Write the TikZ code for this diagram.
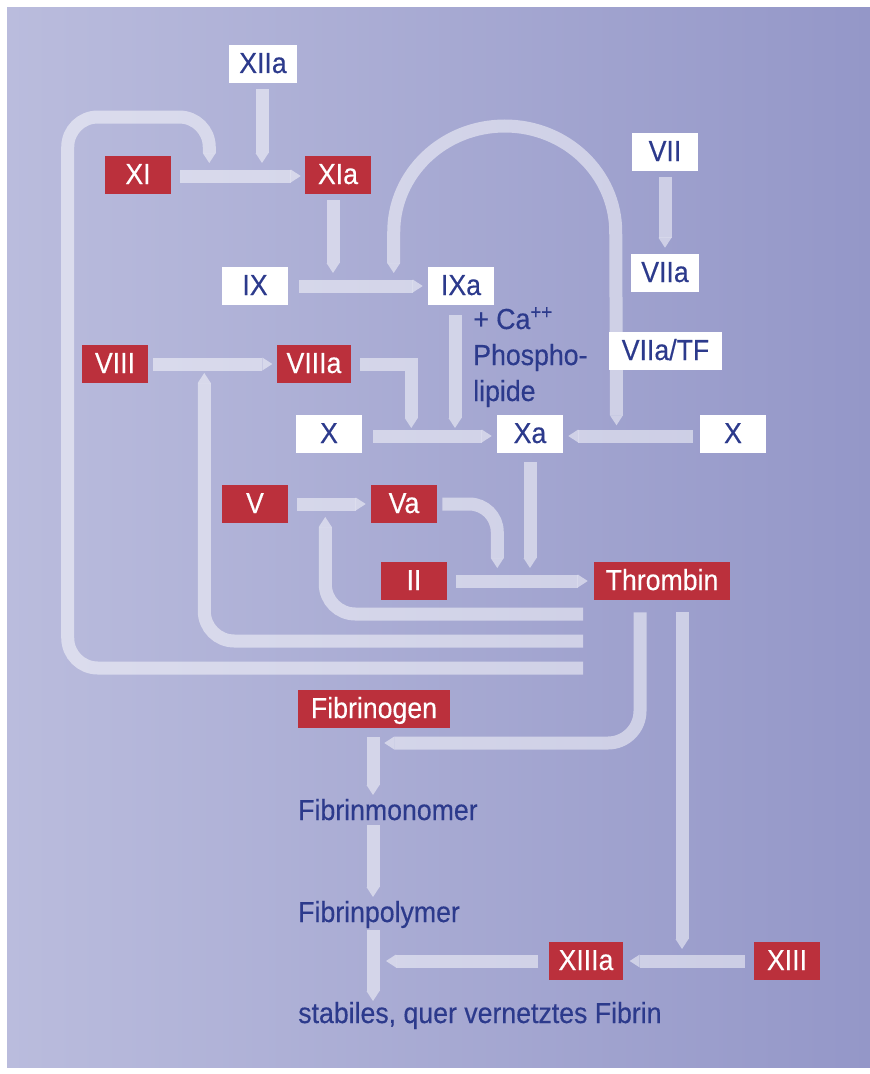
\documentclass[tikz,border=0pt]{standalone}
\usepackage{fontspec}
\setmainfont{Liberation Sans}[FakeStretch=0.92, FakeBold=0.35]
\usetikzlibrary{arrows.meta,calc,backgrounds}
\definecolor{Ink}{HTML}{2C3A8C}
\definecolor{Crimson}{HTML}{BB303C}
\definecolor{HazeL}{HTML}{BABCDD}
\definecolor{HazeR}{HTML}{9497C8}
\newdimen\pxu \pxu=0.75pt
\newcommand{\factorfont}{\fontsize{21.75}{27}\selectfont}
\tikzset{
  factor/.style={inner xsep=10\pxu, inner ysep=0pt, minimum height=38\pxu, minimum width=66\pxu, text height=21\pxu, text depth=3\pxu, font=\factorfont},
  zymogen/.style={factor, fill=white, text=Ink},
  enzyme/.style={factor, fill=Crimson, text=white},
  stage/.style={inner sep=0pt, anchor=base west, text=Ink, font=\factorfont},
  tip/.tip={Triangle[length=7.5pt, width=9.75pt, line width=0pt]},
  band/.style={line width=13\pxu, draw=white, opacity=0.5, -tip},
  twoway/.style={band, tip-tip}
}

\begin{document}
\begin{tikzpicture}[x=0.75pt, y=-0.75pt]
\useasboundingbox (0,0) rectangle (870,1074);
% intrinsic branch
\node[zymogen] (XIIa) at (263,64) {XIIa};
\node[enzyme] (XI) at (138,175) {XI};
\node[enzyme] (XIa) at (338,175) {XIa};
\node[zymogen] (IX) at (255,286) {IX};
\node[zymogen] (IXa) at (461,286) {IXa};
\node[enzyme] (VIII) at (115,364) {VIII};
\node[enzyme] (VIIIa) at (314,364) {VIIIa};
% extrinsic branch
\node[zymogen] (VII) at (665,152) {VII};
\node[zymogen] (VIIa) at (665,273) {VIIa};
\node[zymogen, minimum width=113\pxu] (VIIaTF) at (665.5,351) {VIIa/TF};
\node[stage] (ca) at (473,329) {+ Ca\textsuperscript{++}};
\node[stage] (phos) at (473,365) {Phospho-};
\node[stage] (lip) at (473,401) {lipide};
% common pathway
\node[zymogen] (Xl) at (329,434) {X};
\node[zymogen] (Xa) at (530,434) {Xa};
\node[zymogen] (Xr) at (733,434) {X};
\node[enzyme] (V) at (255,504) {V};
\node[enzyme] (Va) at (404,504) {Va};
\node[enzyme] (II) at (414,581) {II};
\node[enzyme, minimum width=136\pxu] (Thrombin) at (662,581) {Thrombin};
\node[enzyme, minimum width=152\pxu] (Fibrinogen) at (374,709) {Fibrinogen};
\node[stage] (monomer) at (298,820) {Fibrinmonomer};
\node[stage] (polymer) at (298,922) {Fibrinpolymer};
\node[stage] (crosslinked) at (298,1023) {stabiles, quer vernetztes Fibrin};
\node[enzyme] (XIIIa) at (586,961) {XIIIa};
\node[enzyme] (XIII) at (787,961) {XIII};
% feedback starts
\coordinate (fb1) at (583,614);
\coordinate (fb2) at (583,641);
\coordinate (fb3) at (583,668);

\begin{scope}[on background layer]
\fill[white] (0,0) rectangle (870,1074);
\fill[left color=HazeL, right color=HazeR] (7,8) rectangle (870,1067);
% activation bands
\draw[band] ($(XIIa.south)+(-1,6)$) -- ($(XIIa.south |- XI.east)+(-1,-12)$);
\draw[band] ($(XI.east)+(9,1)$) -- ($(XIa.west)+(-4,1)$);
\draw[band] ($(XIa.south)+(-5,6)$) -- ($(XIa.south |- IX.east)+(-5,-13)$);
\draw[band] ($(IX.east)+(11,0)$) -- ($(IXa.west)+(-5,0)$);
\draw[twoway] ($(IXa.west)+(-34,-13)$) -- ++(0,-41)
  arc[start angle=180, end angle=360, x radius=111, y radius=106]
  -- ($(VIIaTF.south)+(-49,55)$);
\draw[band] ($(VII.south)+(0,6)$) -- ($(VIIa.north)+(0,-6)$);
\draw[band] ($(VIII.east)+(5,0)$) -- ($(VIIIa.west)+(-4,0)$);
\draw[band] ($(VIIIa.east)+(8,0)$) -| ($(Xl.east)+(49,-6)$);
\draw[band] ($(IXa.south)+(-6,10)$) -- ($(Xl.east -| IXa.south)+(-6,-6)$);
\draw[band] ($(Xl.east)+(11,2)$) -- ($(Xa.west)+(-5,2)$);
\draw[band] ($(Xr.west)+(-7,2)$) -- ($(Xa.east)+(5,2)$);
\draw[band] ($(Xa.south)+(0,9)$) -- ($(Xa.south |- II.east)+(0,-13)$);
\draw[band] ($(V.east)+(9,0)$) -- ($(Va.west)+(-5,0)$);
\draw[band, rounded corners=28\pxu] ($(Va.east)+(5,0)$) -| ($(II.east)+(50,-13)$);
\draw[band] ($(II.east)+(9,0)$) -- ($(Thrombin.west)+(-6,0)$);
% thrombin feedback
\draw[band, rounded corners=30\pxu] (fb1) -| ($(V.east)+(37,13)$);
\draw[band, rounded corners=30\pxu] (fb2) -| ($(VIII.east)+(56,9)$);
\draw[band, rounded corners=30\pxu] (fb3) -| ($(XI.west)+(-37,-58)$) -| ($(XI.east)+(38,-12)$);
% fibrin formation
\draw[band, rounded corners=32\pxu] ($(Thrombin.south)+(-22,12)$) |- ($(Fibrinogen.east)+(-66,34)$);
\draw[band] ($(Thrombin.south)+(20,12)$) -- ($(Thrombin.south |- XIII.west)+(20,-12)$);
\draw[band] ($(XIII.west)+(-9,0)$) -- ($(XIIIa.east)+(6,0)$);
\draw[band] ($(XIIIa.west)+(-10,0)$) -- ($(Fibrinogen.south |- XIIIa.west)+(12,0)$);
\draw[band] ($(Fibrinogen.south)+(-1,9)$) -- ($(Fibrinogen.south |- monomer.base)+(-1,-25)$);
\draw[band] ($(Fibrinogen.south |- monomer.base)+(-1,5)$) -- ($(Fibrinogen.south |- polymer.base)+(-1,-25)$);
\draw[band] ($(Fibrinogen.south |- polymer.base)+(-1,8)$) -- ($(Fibrinogen.south |- crosslinked.base)+(-1,-22)$);
\end{scope}
\end{tikzpicture}
\end{document}
